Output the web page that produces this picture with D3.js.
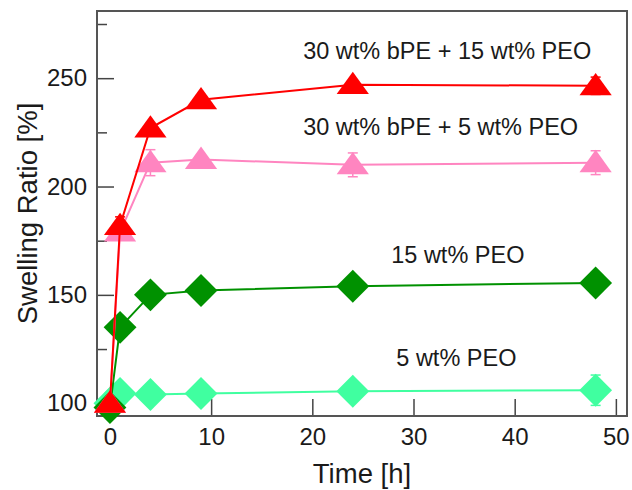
<!DOCTYPE html>
<html>

<head>
    <title>Swelling Ratio</title>
    <script src="https://d3js.org/d3.v7.min.js"></script>
    <style>
        body {
            margin: 0;
            background: #fff;
        }

        text {
            font-family: "Liberation Sans", Arial, sans-serif;
            fill: #1a1a1a;
        }

        .tick line {
            stroke: #444;
            stroke-width: 1.5;
        }

        .series-line {
            fill: none;
            stroke-width: 2;
        }
    </style>
</head>

<body>
    <script>
        // time points [h]
        var times = [0, 1, 4, 9, 24, 48];

        // swelling ratio [%] for each sample, with error bars
        var bpe15 = [100, 182, 227, 240, 247, 246.5];
        var bpe15Err = [1, 4, 2, 2, 2, 4];
        var bpe5 = [100, 179, 211, 212.5, 210, 211];
        var bpe5Err = [1, 3, 6, 2, 5.5, 5.5];
        var peo15 = [98, 135, 150, 152, 154, 155.5];
        var peo15Err = [1, 1, 1, 1, 1, 1];
        var peo5 = [100, 104.5, 104, 104.5, 105.5, 106];
        var peo5Err = [0, 1, 1, 1, 1, 7];

        var seriesNames = ["5 wt% PEO", "15 wt% PEO", "30 wt% bPE + 5 wt% PEO", "30 wt% bPE + 15 wt% PEO"];

        // tick labels
        var xTicks = [0, 10, 20, 30, 40, 50];
        var yTicks = [100, 150, 200, 250];
        var yMinorTicks = [125, 175, 225, 275];

        var w = 632;
        var h = 490;

        // plot box (window.top is reserved, so use other names)
        var plotL = 97, plotR = 627, plotT = 11, plotB = 416;

        var x = d3.scaleLinear().domain([-1.28, 51.1]).range([plotL, plotR]);
        var y = d3.scaleLinear().domain([94.1, 281]).range([plotB, plotT]);

        // drawing order: bottom to top
        var series = [
            { name: seriesNames[0], values: peo5, err: peo5Err, color: "#40ffa0", shape: "diamond" },
            { name: seriesNames[1], values: peo15, err: peo15Err, color: "#009100", shape: "diamond" },
            { name: seriesNames[2], values: bpe5, err: bpe5Err, color: "#ff85c0", shape: "triangle" },
            { name: seriesNames[3], values: bpe15, err: bpe15Err, color: "#ff0000", shape: "triangle" }
        ];

        // where the text labels sit (data coordinates, left/baseline)
        var labelSpots = [
            { name: seriesNames[0], t: 28.3, v: 117.2 },
            { name: seriesNames[1], t: 27.8, v: 164.9 },
            { name: seriesNames[2], t: 19.1, v: 223.8 },
            { name: seriesNames[3], t: 19.1, v: 258.8 }
        ];

        var svg = d3.select("body")
            .append("svg")
            .attr("width", w)
            .attr("height", h);

        // x axis, ticks pointing inward
        svg.append("g")
            .attr("transform", "translate(0," + plotB + ")")
            .call(d3.axisBottom(x).tickValues(xTicks).tickSize(-17).tickSizeOuter(0).tickPadding(12))
            .call(function (g) { g.select(".domain").remove(); })
            .selectAll("text")
            .style("font-size", "24px");

        // y axis major
        svg.append("g")
            .attr("transform", "translate(" + plotL + ",0)")
            .call(d3.axisLeft(y).tickValues(yTicks).tickSize(-17).tickSizeOuter(0).tickPadding(10))
            .call(function (g) { g.select(".domain").remove(); })
            .selectAll("text")
            .style("font-size", "24px");

        // y axis minor
        svg.append("g")
            .attr("transform", "translate(" + plotL + ",0)")
            .call(d3.axisLeft(y).tickValues(yMinorTicks).tickSize(-10).tickSizeOuter(0).tickFormat(""))
            .call(function (g) { g.select(".domain").remove(); });

        // plot frame
        svg.append("rect")
            .attr("x", plotL)
            .attr("y", plotT)
            .attr("width", plotR - plotL)
            .attr("height", plotB - plotT)
            .attr("fill", "none")
            .attr("stroke", "#555")
            .attr("stroke-width", 2);

        var line = d3.line()
            .x(function (d) { return x(d.t); })
            .y(function (d) { return y(d.v); });

        var triangle = d3.symbol().type(d3.symbolTriangle).size(340);
        var diamond = d3.symbol().type(d3.symbolSquare).size(540);

        series.forEach(function (s) {
            var pts = times.map(function (t, i) {
                return { t: t, v: s.values[i], e: s.err[i] };
            });
            var g = svg.append("g");

            g.append("path")
                .attr("class", "series-line")
                .attr("stroke", s.color)
                .attr("d", line(pts));

            // error bars
            var eb = g.selectAll(".err")
                .data(pts.filter(function (d) { return d.e > 0; }))
                .enter()
                .append("g")
                .attr("stroke", s.color)
                .attr("stroke-width", 1.5);
            eb.append("line")
                .attr("x1", function (d) { return x(d.t); })
                .attr("x2", function (d) { return x(d.t); })
                .attr("y1", function (d) { return y(d.v - d.e); })
                .attr("y2", function (d) { return y(d.v + d.e); });
            [-1, 1].forEach(function (sign) {
                eb.append("line")
                    .attr("x1", function (d) { return x(d.t) - 5; })
                    .attr("x2", function (d) { return x(d.t) + 5; })
                    .attr("y1", function (d) { return y(d.v + sign * d.e); })
                    .attr("y2", function (d) { return y(d.v + sign * d.e); });
            });

            // markers
            g.selectAll(".marker")
                .data(pts)
                .enter()
                .append("path")
                .attr("fill", s.color)
                .attr("transform", function (d) {
                    if (s.shape === "diamond") {
                        return "translate(" + x(d.t) + "," + y(d.v) + ") rotate(45)";
                    }
                    return "translate(" + x(d.t) + "," + (y(d.v) + 2) + ") scale(1.15,0.92)";
                })
                .attr("d", s.shape === "diamond" ? diamond() : triangle());
        });

        // series labels
        svg.selectAll(".series-label")
            .data(labelSpots)
            .enter()
            .append("text")
            .attr("x", function (d) { return x(d.t); })
            .attr("y", function (d) { return y(d.v); })
            .style("font-size", "23.5px")
            .text(function (d) { return d.name; });

        // axis titles
        svg.append("text")
            .attr("x", (plotL + plotR) / 2)
            .attr("y", 483)
            .attr("text-anchor", "middle")
            .style("font-size", "27.5px")
            .text("Time [h]");

        svg.append("text")
            .attr("transform", "translate(37," + (plotT + plotB) / 2 + ") rotate(-90)")
            .attr("text-anchor", "middle")
            .style("font-size", "27.5px")
            .text("Swelling Ratio [%]");
    </script>
</body>

</html>
